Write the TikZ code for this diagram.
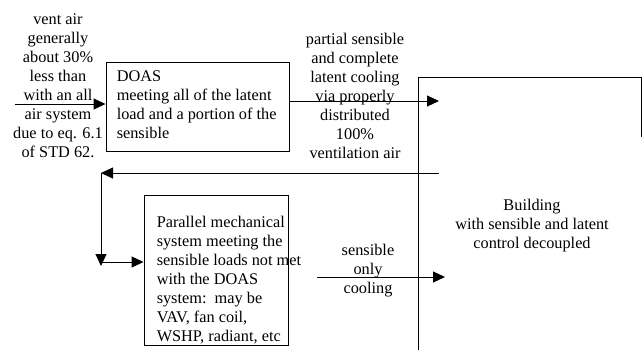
\documentclass[tikz,border=0pt]{standalone}
\usepackage{fontspec}
\setmainfont{Liberation Serif}
\usetikzlibrary{arrows.meta,calc}
\begin{document}
\begin{tikzpicture}[x=1pt,y=-1pt,
  every node/.style={font=\fontsize{16.3}{19}\selectfont},
  boxnode/.style={draw,line width=0.9pt,inner sep=0pt},
  txt/.style={inner sep=0pt,align=center},
  ltxt/.style={inner sep=0pt,align=left,anchor=north west},
  wire/.style={line width=0.9pt},
  arr/.style={wire,-{Triangle[length=12pt,width=11pt]}}]
\useasboundingbox (0,0) rectangle (642,349);

% system boxes
\node[boxnode,minimum width=183pt,minimum height=89pt] (doas) at (197.5,106.5) {};
\node[ltxt] (doastxt) at ($(doas.north west)+(11,9)$)
  {DOAS\\meeting all of the latent\\load and a portion of the\\sensible};
\node[boxnode,minimum width=144pt,minimum height=150pt] (par) at (216,270) {};
\node[ltxt] (partxt) at ($(par.north west)+(13,21)$)
  {Parallel mechanical\\system meeting the\\sensible loads not met\\with the DOAS\\system:\ \ may be\\VAV, fan coil,\\WSHP, radiant, etc};

% building outline (runs past the lower edge)
\coordinate (bldbl) at (418,360);
\coordinate (bldtl) at (418,77);
\coordinate (bldtr) at (641,77);
\coordinate (bldr) at (641,137);
\draw[wire] (bldbl) -- (bldtl) -- (bldtr) -- (bldr);
\node[txt,anchor=north] (bldtxt) at (532,199)
  {Building\\with sensible and latent\\control decoupled};

% labels
\node[txt,anchor=north] (venttxt) at (58,14)
  {vent air\\generally\\about 30\%\\less than\\with an all\\air system\\due to eq. 6.1\\of STD 62.};
\node[txt,anchor=north] (supplytxt) at (355,33)
  {partial sensible\\and complete\\latent cooling\\via properly\\distributed\\100\%\\ventilation air};
\node[txt,anchor=north] (senstxt) at (368,244)
  {sensible\\only\\cooling};

% connectors
\coordinate (ventin) at (15,104);
\draw[arr] (ventin) -- (ventin -| doas.west);
\coordinate (supplyend) at (439,101);
\draw[arr] (doas.east |- supplyend) -- (supplyend);
\coordinate (retstart) at (439,173);
\coordinate (retcorner) at (101,173);
\coordinate (retdown) at (101,266);
\coordinate (retlow) at (101,262);
\draw[arr] (retstart) -- (retcorner);
\draw[arr] (retcorner) -- (retdown);
\draw[arr] (retlow) -- (retlow -| par.west);
\coordinate (sensstart) at (317,277);
\coordinate (sensend) at (445,277);
\draw[arr] (sensstart) -- (sensend);
\end{tikzpicture}
\end{document}
